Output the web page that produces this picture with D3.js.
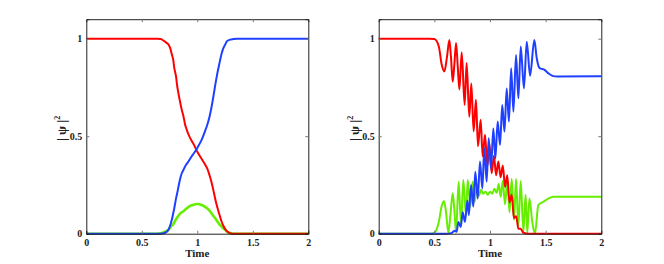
<!DOCTYPE html>
<html>
<head>
<meta charset="utf-8">
<script src="https://d3js.org/d3.v7.min.js"></script>
<style>
  body { margin: 0; background: #fff; }
  svg text { font-family: "Liberation Serif", "Times New Roman", "DejaVu Serif", serif !important; font-weight: bold; }
</style>
</head>
<body>
<svg id="fig" width="664" height="264"></svg>
<script>
// tick values
const xTicks = [0, 0.5, 1, 1.5, 2];
const yTicks = [0, 0.5, 1];

// left panel (adiabatic)
const leftT    = [0, 0.3, 0.6, 0.636, 0.67, 0.696, 0.72, 0.74, 0.76, 0.77, 0.785, 0.79, 0.81, 0.816, 0.83, 0.84, 0.86, 0.876, 0.89, 0.91, 0.92, 0.95, 0.966, 1.0, 1.04, 1.08, 1.085, 1.11, 1.13, 1.14, 1.17, 1.2, 1.22, 1.23, 1.26, 1.265, 1.295, 1.325, 1.36, 1.5, 2];
const leftRed  = [1, 1, 1, 1, 0.998, 0.99, 0.98, 0.97, 0.945, 0.92, 0.885, 0.86, 0.8, 0.77, 0.72, 0.69, 0.635, 0.6, 0.56, 0.525, 0.51, 0.475, 0.46, 0.42, 0.383, 0.345, 0.34, 0.3, 0.26, 0.235, 0.157, 0.097, 0.06, 0.046, 0.017, 0.014, 0.003, 0, 0, 0, 0];
const leftBlue = [0, 0, 0, 0, 0, 0.002, 0.008, 0.02, 0.05, 0.07, 0.11, 0.123, 0.185, 0.2, 0.24, 0.268, 0.31, 0.328, 0.345, 0.362, 0.37, 0.397, 0.41, 0.44, 0.482, 0.542, 0.55, 0.6, 0.655, 0.687, 0.79, 0.875, 0.925, 0.944, 0.98, 0.986, 0.995, 0.998, 1, 1, 1];
const leftGreen= [0, 0, 0, 0, 0.002, 0.007, 0.013, 0.02, 0.035, 0.042, 0.05, 0.055, 0.075, 0.08, 0.092, 0.1, 0.11, 0.115, 0.123, 0.132, 0.137, 0.146, 0.149, 0.152, 0.147, 0.134, 0.132, 0.118, 0.103, 0.095, 0.072, 0.048, 0.036, 0.03, 0.015, 0.012, 0.004, 0, 0, 0, 0];

// right panel (diabatic, oscillating)
const rightRedT = [0, 0.45, 0.5, 0.54, 0.565, 0.59, 0.612, 0.635, 0.65, 0.665, 0.68, 0.695, 0.71, 0.725, 0.746, 0.772, 0.79, 0.814, 0.832, 0.853, 0.874, 0.892, 0.916, 0.934, 0.955, 0.976, 0.995, 1.015, 1.035, 1.055, 1.075, 1.095, 1.115, 1.135, 1.155, 1.175, 1.195, 1.215, 1.235, 1.255, 1.275, 1.3, 1.35, 2];
const rightRed  = [1, 1, 0.998, 0.96, 0.87, 0.832, 0.9, 0.993, 0.9, 0.78, 0.87, 0.978, 0.86, 0.74, 0.93, 0.66, 0.875, 0.6, 0.77, 0.525, 0.687, 0.448, 0.585, 0.397, 0.508, 0.345, 0.46, 0.31, 0.4, 0.3, 0.37, 0.29, 0.35, 0.24, 0.3, 0.16, 0.2, 0.08, 0.09, 0.025, 0.025, 0.005, 0, 0];

const rightBlueT = [0, 0.6, 0.65, 0.685, 0.7, 0.716, 0.737, 0.755, 0.775, 0.797, 0.81, 0.83, 0.85, 0.868, 0.89, 0.91, 0.931, 0.949, 0.97, 0.988, 1.009, 1.03, 1.048, 1.069, 1.09, 1.11, 1.13, 1.15, 1.17, 1.19, 1.21, 1.234, 1.255, 1.276, 1.305, 1.33, 1.36, 1.398, 1.42, 1.445, 1.49, 1.53, 1.57, 1.6, 2];
const rightBlue  = [0, 0, 0.003, 0.015, 0.01, 0.06, 0.035, 0.11, 0.06, 0.17, 0.096, 0.25, 0.139, 0.318, 0.18, 0.37, 0.232, 0.438, 0.267, 0.489, 0.335, 0.54, 0.386, 0.575, 0.455, 0.66, 0.523, 0.745, 0.575, 0.848, 0.626, 0.916, 0.694, 0.96, 0.745, 0.985, 0.81, 0.993, 0.9, 0.85, 0.84, 0.82, 0.808, 0.806, 0.807];

const rightGreenT = [0, 0.47, 0.5, 0.54, 0.565, 0.587, 0.605, 0.626, 0.645, 0.665, 0.68, 0.695, 0.718, 0.74, 0.76, 0.784, 0.8, 0.823, 0.844, 0.862, 0.883, 0.9, 0.92, 0.94, 0.96, 0.98, 1.0, 1.02, 1.04, 1.06, 1.078, 1.096, 1.115, 1.135, 1.156, 1.175, 1.195, 1.216, 1.234, 1.255, 1.276, 1.3, 1.32, 1.335, 1.354, 1.38, 1.404, 1.434, 1.479, 1.524, 1.57, 1.6, 2];
const rightGreen  = [0, 0, 0.005, 0.06, 0.14, 0.166, 0.11, 0.005, 0.1, 0.207, 0.12, 0.008, 0.267, 0.045, 0.275, 0.096, 0.275, 0.139, 0.267, 0.164, 0.245, 0.195, 0.225, 0.205, 0.215, 0.2, 0.215, 0.205, 0.23, 0.21, 0.255, 0.19, 0.27, 0.15, 0.277, 0.11, 0.28, 0.07, 0.28, 0.04, 0.27, 0.01, 0.2, 0.005, 0.18, 0.06, 0, 0.147, 0.164, 0.18, 0.19, 0.19, 0.19];

const colRed = "#ff0000", colBlue = "#2040ff", colGreen = "#66ee00";
const serif = '"Liberation Serif", "Times New Roman", "DejaVu Serif", serif';

const svg = d3.select("#fig");
const y = d3.scaleLinear().domain([0, 1.1]).range([233.7, 19.2]);

function panel(x0, x1, series) {
  const x = d3.scaleLinear().domain([0, 2]).range([x0, x1]);
  const g = svg.append("g");

  const line = d3.line()
    .x(d => x(d[0]))
    .y(d => y(d[1]))
    .curve(d3.curveMonotoneX);

  series.forEach(s => {
    g.append("path")
      .datum(d3.zip(s.t, s.v))
      .attr("d", line)
      .attr("fill", "none")
      .attr("stroke", s.c)
      .attr("stroke-width", s.w)
      .attr("stroke-linejoin", "round");
  });

  // axes, ticks pointing inward
  const bottom = g.append("g").attr("transform", `translate(0,${y(0)})`)
    .call(d3.axisBottom(x).tickValues(xTicks).tickSize(-3).tickPadding(5).tickFormat(d3.format("~g")));
  const top = g.append("g").attr("transform", `translate(0,${y(1.1)})`)
    .call(d3.axisTop(x).tickValues(xTicks).tickSize(-3).tickFormat(""));
  const left = g.append("g").attr("transform", `translate(${x0},0)`)
    .call(d3.axisLeft(y).tickValues(yTicks).tickSize(-3).tickPadding(4).tickFormat(d3.format("~g")));
  const right = g.append("g").attr("transform", `translate(${x1},0)`)
    .call(d3.axisRight(y).tickValues(yTicks).tickSize(-3).tickFormat(""));

  [bottom, top, left, right].forEach(a => {
    a.attr("font-family", serif);
    a.select(".domain").attr("stroke", "#222").attr("stroke-width", 1);
    a.selectAll(".tick line").attr("stroke", "#777");
    a.selectAll("text").attr("font-size", 10).attr("fill", "#222")
      .style("font-family", serif).style("font-weight", "bold");
  });
  // hide tick marks at the corners
  bottom.selectAll(".tick").filter(d => d === 0 || d === 2).select("line").remove();
  top.selectAll(".tick").filter(d => d === 0 || d === 2).select("line").remove();
  left.selectAll(".tick").filter(d => d === 0).select("line").remove();
  right.selectAll(".tick").filter(d => d === 0).select("line").remove();

  g.append("text")
    .attr("x", (x0 + x1) / 2).attr("y", 257)
    .attr("text-anchor", "middle").attr("font-size", 11).attr("fill", "#222")
    .style("font-family", serif)
    .text("Time");

  const lab = g.append("text")
    .attr("transform", `translate(${x0 - 20},${y(0.55) + 2}) rotate(-90)`)
    .attr("text-anchor", "middle").attr("font-size", 13).attr("fill", "#222")
    .style("font-family", serif);
  lab.append("tspan").text("| \u03c8 |");
  lab.append("tspan").attr("font-size", 8).attr("dy", -6).text("2");
}

panel(86.3, 308.3, [
  { t: leftT, v: leftGreen, c: colGreen, w: 2.6 },
  { t: leftT, v: leftRed, c: colRed, w: 2 },
  { t: leftT, v: leftBlue, c: colBlue, w: 2 }
]);
panel(378.7, 601.3, [
  { t: rightGreenT, v: rightGreen, c: colGreen, w: 2 },
  { t: rightRedT, v: rightRed, c: colRed, w: 2 },
  { t: rightBlueT, v: rightBlue, c: colBlue, w: 2 }
]);
</script>
</body>
</html>
